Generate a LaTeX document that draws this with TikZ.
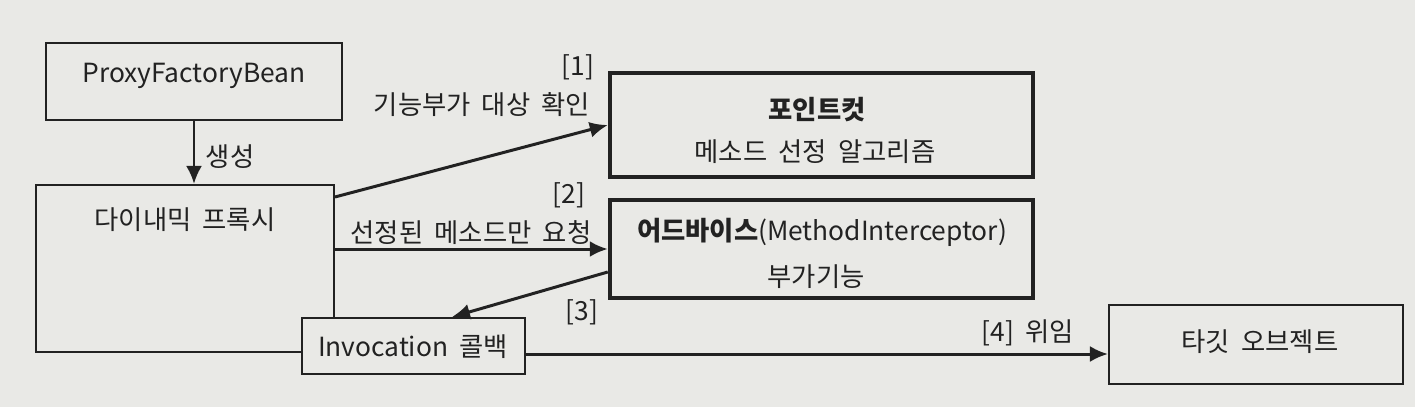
\documentclass[tikz,border=0pt]{standalone}
\usepackage{fontspec}
\setmainfont{Noto Sans CJK KR}[WordSpace=1.9]
\usetikzlibrary{arrows.meta}
\definecolor{paper}{RGB}{233,233,230}
\definecolor{ink}{RGB}{34,34,34}
\tikzset{
    box/.style={draw=ink, fill=paper, line width=1.2pt, inner sep=0pt},
    thickbox/.style={box, line width=2.6pt, align=center},
    flow/.style={draw=ink, line width=1.7pt, -{Latex[length=0.36cm,width=0.32cm]}},
    txt/.style={text=ink, inner sep=0pt}
}
\begin{document}
\begin{tikzpicture}[x=0.02cm, y=-0.02cm, font=\fontsize{15}{18}\selectfont, text=ink]
            \fill[paper] (0,0) rectangle (1415,407);
            \useasboundingbox (0,0) rectangle (1415,407);
            \node[box, minimum width=5.92cm, minimum height=1.54cm] (pfb) at (194,81.5) {};
            \node[txt] (pfbtext) at (194,76) {ProxyFactoryBean};
            \node[box, minimum width=5.96cm, minimum height=3.34cm] (proxy) at (185,268.5) {};
            \node[txt] (proxytext) at (185,220) {다이내믹 프록시};
            \node[thickbox, minimum width=8.46cm, minimum height=2.08cm] (pc) at (821.5,125) {};
            \node[txt, font=\fontsize{15}{18}\selectfont\bfseries] (pctitle) at (817,110) {포인트컷};
            \node[txt] (pctext) at (815,152) {메소드 선정 알고리즘};
            \node[thickbox, minimum width=8.46cm, minimum height=1.96cm] (adv) at (821.5,249) {};
            \node[txt] (advtitle) at (822,232) {\textbf{어드바이스}(MethodInterceptor)};
            \node[txt] (advtext) at (816,277) {부가기능};
            \node[box, minimum width=4.46cm, minimum height=1.12cm] (inv) at (413.5,346) {};
            \node[txt] (invtext) at (413,347) {Invocation 콜백};
            \node[box, minimum width=5.88cm, minimum height=1.58cm] (tgt) at (1256,344.5) {};
            \node[txt] (tgttext) at (1260,342) {타깃 오브젝트};

            \draw[flow] (pfb.south) -- (pfb.south |- proxy.north);
            \node[txt] (create) at (230,157) {생성};
            \draw[flow] ([yshift=-0.26cm]proxy.north east) -- (pc.west);
            \node[txt] (n1) at (578,67) {[1]};
            \node[txt] (check) at (482,105) {기능부가 대상 확인};
            \draw[flow] (proxy.east |- adv.west) -- (adv.west);
            \node[txt] (n2) at (569,195) {[2]};
            \node[txt] (request) at (471,233) {선정된 메소드만 요청};
            \draw[flow] ([yshift=-0.46cm]adv.west) -- ([xshift=0.77cm]inv.north);
            \node[txt] (n3) at (582,312) {[3]};
            \coordinate (invout) at ([yshift=-0.16cm]inv.east);
            \draw[flow] (invout) -- (tgt.west |- invout);
            \node[txt] (delegate) at (1028,333) {[4] 위임};
        \end{tikzpicture}
\end{document}
